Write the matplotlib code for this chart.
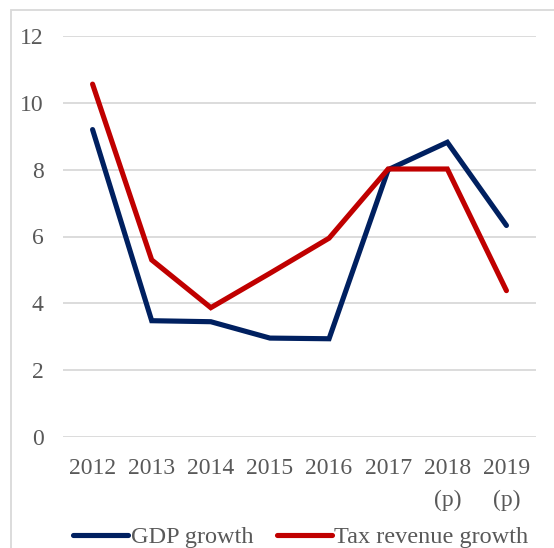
import numpy as np
import matplotlib.pyplot as plt
from matplotlib.patches import Rectangle

plt.rcParams['font.family'] = ['Liberation Serif', 'DejaVu Serif']

years = ["2012", "2013", "2014", "2015", "2016", "2017", "2018\n(p)", "2019\n(p)"]
gdp_growth = [9.2, 3.48, 3.45, 2.96, 2.94, 8.0, 8.82, 6.33]
tax_growth = [10.56, 5.3, 3.87, 4.9, 5.95, 8.02, 8.02, 4.38]

navy = "#002060"
red = "#C00000"
grey_text = "#595959"

W, H = 554, 548
fig = plt.figure(figsize=(W / 100, H / 100), dpi=100)
ax = fig.add_axes([63 / W, 1 - 437 / H, (536 - 63) / W, (437 - 36) / H])

x = np.arange(len(years))
ax.plot(x, gdp_growth, color=navy, lw=3.7, solid_joinstyle='miter', solid_capstyle='round', label="GDP growth")
ax.plot(x, tax_growth, color=red, lw=3.7, solid_joinstyle='miter', solid_capstyle='round', label="Tax revenue growth")

ax.set_xlim(-0.5, len(years) - 0.5)
ax.set_ylim(0, 12)
ax.set_yticks(range(0, 13, 2))
ax.set_xticks(x)
ax.set_xticklabels(years, linespacing=1.7, va='top')
ax.yaxis.grid(True, color="#d9d9d9", lw=1.3)
ax.set_axisbelow(True)
for s in ax.spines.values():
    s.set_visible(False)
ax.tick_params(length=0, labelsize=17, colors=grey_text)
ax.tick_params(axis='y', pad=14)
ax.tick_params(axis='x', pad=15)

leg = fig.legend(loc='center', bbox_to_anchor=(301 / W, 1 - 537 / H), ncol=2, frameon=False,
                 fontsize=17.5, handlelength=2.25, handletextpad=0.1, columnspacing=1.0,
                 labelcolor=grey_text)

# thin outer frame
fig.patches.append(Rectangle((10.5 / W, -0.1), 1.2, 1 - 10.5 / H + 0.1, transform=fig.transFigure,
                             fill=False, edgecolor="#d9d9d9", lw=1.3))

fig.savefig("out.png", dpi=100)
